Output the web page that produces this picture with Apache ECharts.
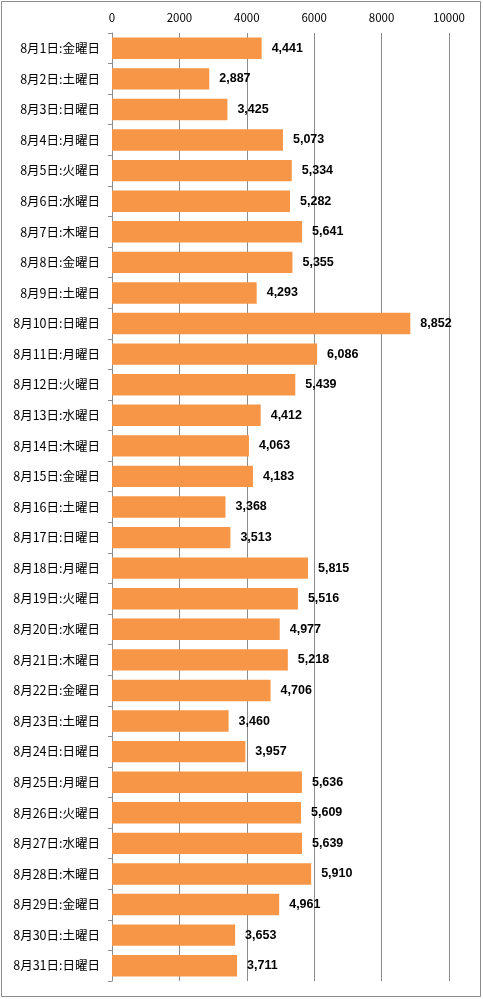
<!DOCTYPE html>
<html><head><meta charset="utf-8">
<script src="https://cdn.jsdelivr.net/npm/echarts@6/dist/echarts.min.js"></script>
<style>html,body{margin:0;padding:0;background:#fff;}#c{width:483px;height:999px;}</style>
</head><body><div id="c"></div>
<script>
const categories = ["8月1日:金曜日","8月2日:土曜日","8月3日:日曜日","8月4日:月曜日","8月5日:火曜日","8月6日:水曜日","8月7日:木曜日","8月8日:金曜日","8月9日:土曜日","8月10日:日曜日","8月11日:月曜日","8月12日:火曜日","8月13日:水曜日","8月14日:木曜日","8月15日:金曜日","8月16日:土曜日","8月17日:日曜日","8月18日:月曜日","8月19日:火曜日","8月20日:水曜日","8月21日:木曜日","8月22日:金曜日","8月23日:土曜日","8月24日:日曜日","8月25日:月曜日","8月26日:火曜日","8月27日:水曜日","8月28日:木曜日","8月29日:金曜日","8月30日:土曜日","8月31日:日曜日"];
const values = [4441,2887,3425,5073,5334,5282,5641,5355,4293,8852,6086,5439,4412,4063,4183,3368,3513,5815,5516,4977,5218,4706,3460,3957,5636,5609,5639,5910,4961,3653,3711];
const xTicks = [0,2000,4000,6000,8000,10000];

const chart = echarts.init(document.getElementById('c'));
chart.setOption({
  animation: false,
  graphic: [{type:'rect', shape:{x:1.5,y:1.5,width:479,height:995}, style:{fill:'none',stroke:'#8c8c8c',lineWidth:1}}],
  grid: {left:112, right:34, top:33, bottom:18, containLabel:false},
  xAxis: {
    type:'value', position:'top', min:0, max:10000, interval:2000,
    axisLine:{show:false}, axisTick:{show:false},
    axisLabel:{color:'#000', fontSize:11.5, fontFamily:'"Noto Sans CJK JP", sans-serif', margin:10,
      formatter: v => xTicks.includes(v) ? String(v) : ''},
    splitLine:{show:true, lineStyle:{color:'#8c8c8c', width:1}}
  },
  yAxis: {
    type:'category', inverse:true, data:categories,
    axisLine:{show:true, lineStyle:{color:'#8c8c8c'}},
    axisTick:{show:true, length:4, inside:false, lineStyle:{color:'#8c8c8c'}},
    axisLabel:{color:'#000', fontSize:12.5, fontFamily:'"Noto Sans CJK JP", sans-serif', margin:12}
  },
  series: [{
    type:'bar', data:values, barCategoryGap:'30%',
    itemStyle:{color:'#F79646'},
    label:{show:true, position:'right', distance:10, color:'#000', fontWeight:'bold', fontSize:12.5,
      fontFamily:'"Liberation Sans", sans-serif',
      formatter: p => p.value.toLocaleString('en-US')}
  }]
});
</script></body></html>
